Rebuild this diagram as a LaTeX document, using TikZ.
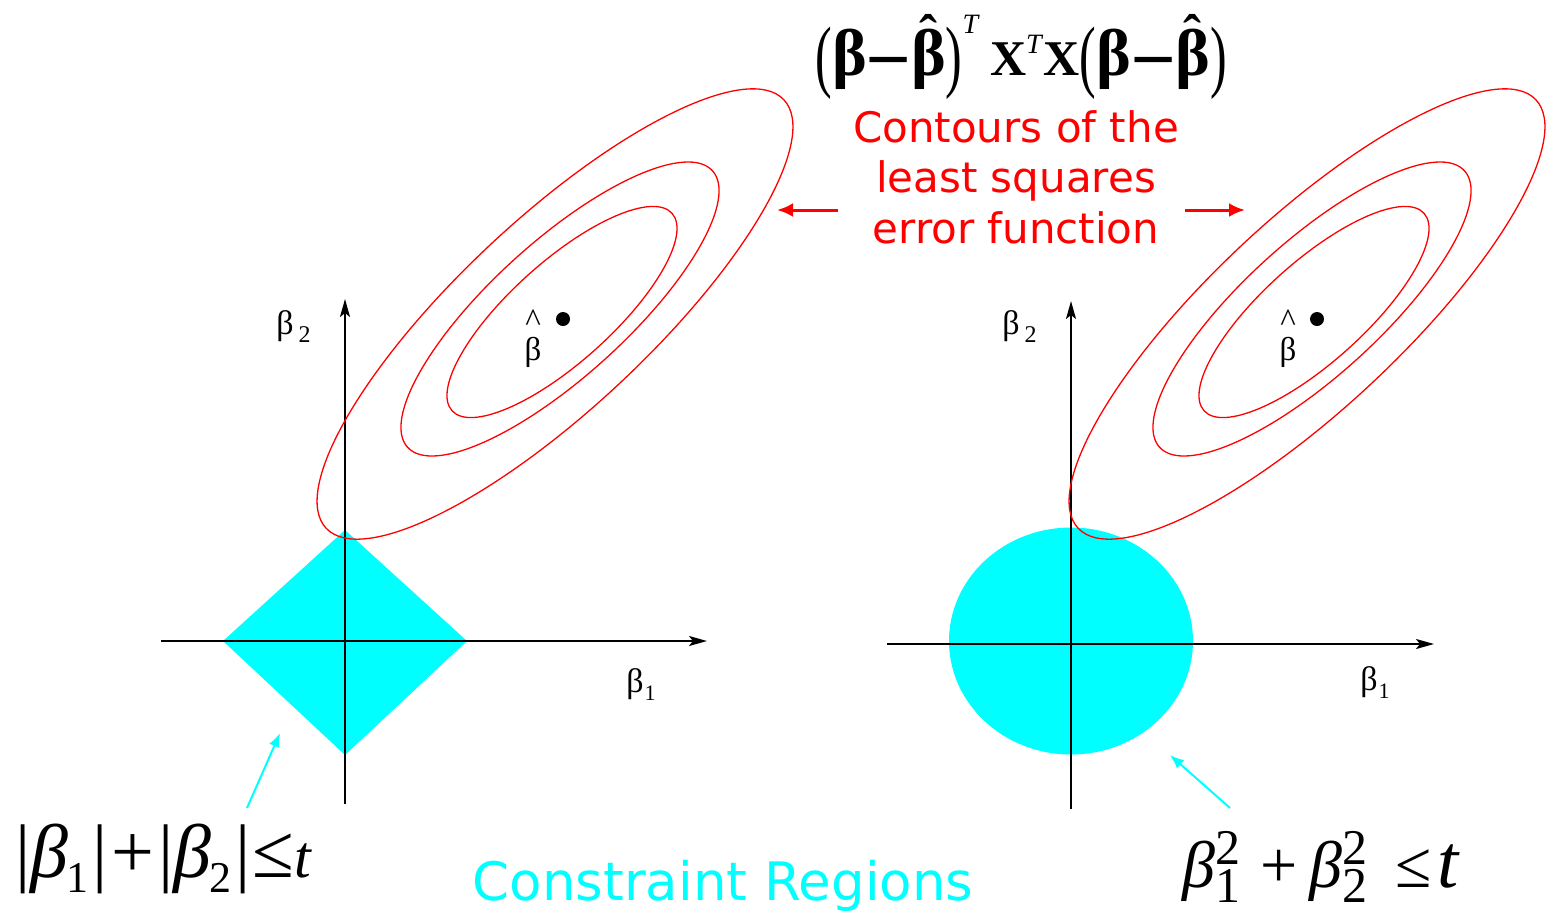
\documentclass[tikz,border=0pt]{standalone}
\usepackage{fontspec}
\usepackage{graphicx}
\usetikzlibrary{arrows.meta}
\definecolor{aqua}{RGB}{0,255,255}
\definecolor{pured}{RGB}{255,0,0}
\newfontfamily\tnr{Liberation Serif}
\newfontfamily\dvs{DejaVu Sans}
\newcommand\bbeta{{\fontsize{33}{33}\selectfont β}}
\newcommand\bhatbeta{\ooalign{\bbeta\cr\hfil\raisebox{11.5pt}{\fontsize{27}{27}\selectfont\char"02C6}\hfil\cr}}
\newcommand\lpar{\raisebox{-3.5pt}{\scalebox{1}[1.6]{\mdseries(}}}
\newcommand\rpar{\raisebox{-3.5pt}{\scalebox{1}[1.6]{\mdseries)}}}
\newcommand\bminus{\kern2pt\raisebox{-1pt}{\scalebox{1.45}[1.5]{–}}\kern2pt}
\newcommand\supT[1]{\raisebox{#1}{\fontsize{14}{14}\selectfont\mdseries\itshape T}}
\newcommand\ssc[2]{\rlap{\raisebox{11.5pt}{\fontsize{25}{25}\selectfont #1}}\raisebox{-7.5pt}{\fontsize{25}{25}\selectfont #2}}
\newcommand\hatb{\ooalign{β\cr\hfil\raisebox{0.86em}{\textasciicircum}\hfil\cr}}
\begin{document}
\begin{tikzpicture}[x=0.5pt,y=-0.5pt,
  axisline/.style={line width=1pt, -{Stealth[length=9pt,width=5pt,inset=2pt]}},
  contour/.style={pured, line width=0.65pt},
  redarrow/.style={pured, line width=1.5pt, -{Latex[length=8pt,width=7pt]}},
  cyanarrow/.style={aqua, line width=1pt, -{Latex[length=7pt,width=5.5pt]}},
  region/.style={fill=aqua, draw=none},
  axlabel/.style={font=\tnr\fontsize{17}{17}\selectfont, inner sep=0, anchor=base west},
  dotmark/.style={circle, fill=black, inner sep=0, minimum size=7pt},
  hatlabel/.style={font=\tnr\fontsize{16.5}{16.5}\selectfont, inner sep=0, anchor=base}
]
\useasboundingbox (0,0) rectangle (1546,911);
\fill[white] (0,0) rectangle (1546,911);

% ---------- left panel ----------
\fill[region] (345,530) -- (467,641) -- (345,755) -- (223,641) -- cycle;
\coordinate (LxS) at (161,641); \coordinate (LxE) at (707,641);
\coordinate (LyS) at (345,804); \coordinate (LyE) at (345,299);
\draw[axisline] (LxS) -- (LxE);
\draw[axisline] (LyS) -- (LyE);
\draw[contour, rotate around={43.1:(555,314)}] (555,314) ellipse [x radius=313.5, y radius=94.8];
\draw[contour, rotate around={42.2:(560,309)}] (560,309) ellipse [x radius=205.8, y radius=67.4];
\draw[contour, rotate around={41.9:(562,312)}] (562,312) ellipse [x radius=147.8, y radius=50.2];
\node[dotmark] (dotL) at (563,319) {};
\node[hatlabel] (hatL) at (533,360) {\hatb};
\node[axlabel] (b2L) at (276,334) {β\kern2.5pt\raisebox{-4pt}{\fontsize{12}{12}\selectfont 2}};
\node[axlabel] (b1L) at (626,692) {β\kern0.5pt\raisebox{-4pt}{\fontsize{11}{11}\selectfont 1}};

% ---------- right panel ----------
\fill[region] (1071,641) ellipse [x radius=122, y radius=113.5];
\coordinate (RxS) at (887,644); \coordinate (RxE) at (1434,644);
\coordinate (RyS) at (1071,809); \coordinate (RyE) at (1071,301);
\draw[axisline] (RxS) -- (RxE);
\draw[axisline] (RyS) -- (RyE);
\draw[contour, rotate around={43.1:(1307,314)}] (1307,314) ellipse [x radius=313.5, y radius=94.8];
\draw[contour, rotate around={42.2:(1312,309)}] (1312,309) ellipse [x radius=205.8, y radius=67.4];
\draw[contour, rotate around={41.9:(1314,312)}] (1314,312) ellipse [x radius=147.8, y radius=50.2];
\node[dotmark] (dotR) at (1317,319) {};
\node[hatlabel] (hatR) at (1288,360) {\hatb};
\node[axlabel] (b2R) at (1002,334) {β\kern2.5pt\raisebox{-4pt}{\fontsize{12}{12}\selectfont 2}};
\node[axlabel] (b1R) at (1360,690) {β\kern0.5pt\raisebox{-4pt}{\fontsize{11}{11}\selectfont 1}};

% ---------- top formula ----------
\node[inner sep=0, anchor=base west, font=\tnr\bfseries\fontsize{25}{25}\selectfont] (quad) at (815,75)
  {\lpar\bbeta\bminus\bhatbeta\rpar\supT{21pt}\kern6pt X\supT{11pt}\kern1pt X\lpar\bbeta\bminus\bhatbeta\rpar};

% ---------- contour caption ----------
\node[font=\dvs\fontsize{21}{25.25}\selectfont, text=pured, align=center, inner sep=0] (ctxt) at (1016,177)
  {Contours of the\\least squares\\error function};
\coordinate (aLs) at (838,210); \coordinate (aLe) at (777,210);
\coordinate (aRs) at (1185,210); \coordinate (aRe) at (1245,210);
\draw[redarrow] (aLs) -- (aLe);
\draw[redarrow] (aRs) -- (aRe);

% ---------- constraint formulas ----------
\node[inner sep=0, anchor=base west, font=\tnr\fontsize{38}{38}\selectfont] (fL) at (15,877)
  {|\textit{β}\kern-1pt\raisebox{-0.21em}{\fontsize{22}{22}\selectfont 1}\kern2pt|\kern2pt+\kern2pt|\textit{β}\kern-1pt\raisebox{-0.21em}{\fontsize{22}{22}\selectfont 2}\kern2pt|\kern1pt≤\kern0pt{\fontsize{30}{30}\selectfont\textit{t}}};
\node[inner sep=0, anchor=base west, font=\tnr\fontsize{33}{33}\selectfont] (fR) at (1182,887)
  {\textit{β}\ssc{2}{1}\kern10pt+\kern6pt\textit{β}\ssc{2}{2}\kern14pt≤\kern3pt{\fontsize{38}{38}\selectfont\textit{t}}};
\coordinate (cLs) at (247,808); \coordinate (cLe) at (280,733);
\coordinate (cRs) at (1230,808); \coordinate (cRe) at (1170,755);
\draw[cyanarrow] (cLs) -- (cLe);
\draw[cyanarrow] (cRs) -- (cRe);

\node[font=\dvs\fontsize{26.5}{26.5}\selectfont, text=aqua, anchor=base, inner sep=0] (cr) at (723,900) {Constraint Regions};
\end{tikzpicture}
\end{document}
